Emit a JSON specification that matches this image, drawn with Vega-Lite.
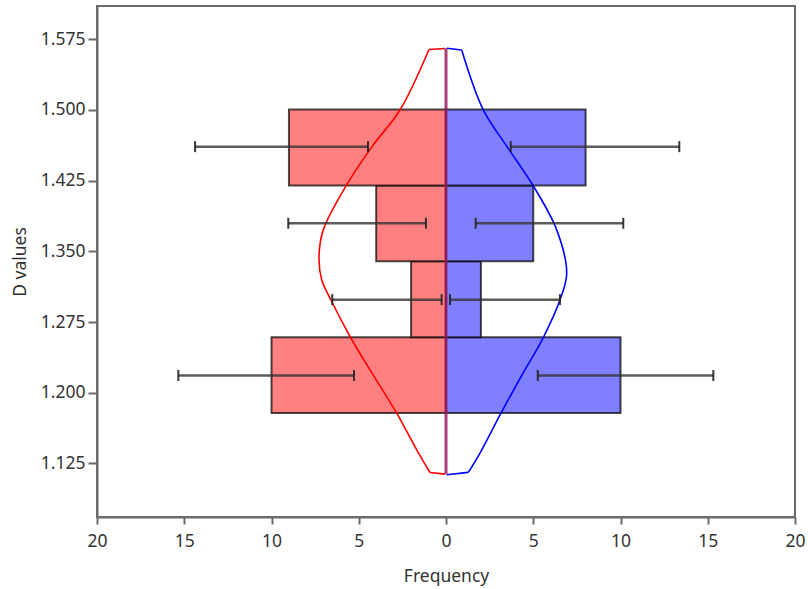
{
  "$schema": "https://vega.github.io/schema/vega-lite/v6.json",
  "autosize": "none",
  "width": 698,
  "height": 511,
  "padding": {"left": 97, "top": 6, "right": 13, "bottom": 72},
  "background": "white",
  "config": {
    "view": {"stroke": "#6b6b6b", "strokeWidth": 2},
    "font": "Noto Sans",
    "axis": {
      "domainColor": "#6b6b6b", "domainWidth": 2,
      "tickColor": "#6b6b6b", "tickWidth": 2,
      "labelFont": "Noto Sans", "labelFontSize": 17.5, "labelColor": "#333333",
      "titleFont": "Noto Sans", "titleFontSize": 17.5, "titleFontWeight": "normal", "titleColor": "#333333",
      "grid": false, "labelFlush": false
    }
  },
  "datasets": {
    "bars": [
      {"side": "L", "lo": 1.1785, "hi": 1.259, "freq": -10},
      {"side": "L", "lo": 1.259, "hi": 1.3395, "freq": -2},
      {"side": "L", "lo": 1.3395, "hi": 1.42, "freq": -4},
      {"side": "L", "lo": 1.42, "hi": 1.5005, "freq": -9},
      {"side": "R", "lo": 1.1785, "hi": 1.259, "freq": 10},
      {"side": "R", "lo": 1.259, "hi": 1.3395, "freq": 2},
      {"side": "R", "lo": 1.3395, "hi": 1.42, "freq": 5},
      {"side": "R", "lo": 1.42, "hi": 1.5005, "freq": 8}
    ],
    "errs": [
      {"side": "L", "y": 1.2183, "elo": -15.34, "ehi": -5.27},
      {"side": "L", "y": 1.2988, "elo": -6.52, "ehi": -0.25},
      {"side": "L", "y": 1.3798, "elo": -9.04, "ehi": -1.15},
      {"side": "L", "y": 1.4611, "elo": -14.38, "ehi": -4.47},
      {"side": "R", "y": 1.2183, "elo": 5.26, "ehi": 15.32},
      {"side": "R", "y": 1.2988, "elo": 0.23, "ehi": 6.53},
      {"side": "R", "y": 1.3798, "elo": 1.7, "ehi": 10.16},
      {"side": "R", "y": 1.4611, "elo": 3.71, "ehi": 13.37}
    ],
    "curves": [
      {"side": "L", "i": 0, "x": -0.974, "y": 1.5642},
      {"side": "L", "i": 1, "x": -2.636, "y": 1.5},
      {"side": "L", "i": 2, "x": -4.241, "y": 1.4611},
      {"side": "L", "i": 3, "x": -5.691, "y": 1.4205},
      {"side": "L", "i": 4, "x": -7.032, "y": 1.3728},
      {"side": "L", "i": 5, "x": -7.278, "y": 1.3442},
      {"side": "L", "i": 6, "x": -7.123, "y": 1.3198},
      {"side": "L", "i": 7, "x": -6.55, "y": 1.2968},
      {"side": "L", "i": 8, "x": -5.501, "y": 1.2597},
      {"side": "L", "i": 9, "x": -4.355, "y": 1.2243},
      {"side": "L", "i": 10, "x": -2.825, "y": 1.1784},
      {"side": "L", "i": 11, "x": -1.679, "y": 1.1395},
      {"side": "L", "i": 12, "x": -0.917, "y": 1.1154},
      {"side": "R", "i": 0, "x": 0.9, "y": 1.5637},
      {"side": "R", "i": 1, "x": 2.138, "y": 1.5},
      {"side": "R", "i": 2, "x": 3.496, "y": 1.4611},
      {"side": "R", "i": 3, "x": 4.968, "y": 1.4205},
      {"side": "R", "i": 4, "x": 6.344, "y": 1.3728},
      {"side": "R", "i": 5, "x": 6.917, "y": 1.3269},
      {"side": "R", "i": 6, "x": 6.533, "y": 1.2986},
      {"side": "R", "i": 7, "x": 5.576, "y": 1.2586},
      {"side": "R", "i": 8, "x": 4.338, "y": 1.2183},
      {"side": "R", "i": 9, "x": 3.15, "y": 1.1784},
      {"side": "R", "i": 10, "x": 1.948, "y": 1.136},
      {"side": "R", "i": 11, "x": 1.278, "y": 1.1155}
    ],
    "caps": [
      {"side": "L", "x": -0.974, "y": 1.5642, "x2": -0.057, "y2": 1.5652},
      {"side": "L", "x": -0.917, "y": 1.1154, "x2": -0.057, "y2": 1.1137},
      {"side": "R", "x": 0.04, "y": 1.5655, "x2": 0.9, "y2": 1.5637},
      {"side": "R", "x": 1.278, "y": 1.1155, "x2": 0.04, "y2": 1.113}
    ],
    "center": [{"x": 0, "y": 1.1135, "y2": 1.5655}]
  },
  "layer": [
    {
      "data": {"name": "bars"},
      "mark": {"type": "rect", "stroke": "#000000", "strokeOpacity": 0.7, "strokeWidth": 2},
      "encoding": {
        "x": {"field": "freq", "type": "quantitative",
          "scale": {"domain": [-20, 20], "nice": false, "zero": false},
          "axis": {"values": [-20, -15, -10, -5, 0, 5, 10, 15, 20], "labelExpr": "abs(datum.value)", "title": "Frequency", "tickSize": 7, "labelPadding": 8, "titlePadding": 18}},
        "x2": {"datum": 0},
        "y": {"field": "lo", "type": "quantitative",
          "scale": {"domain": [1.0682, 1.6103], "nice": false, "zero": false},
          "axis": {"values": [1.125, 1.2, 1.275, 1.35, 1.425, 1.5, 1.575], "format": ".3f", "title": "D values", "tickSize": 9, "labelPadding": 3, "titlePadding": 11}},
        "y2": {"field": "hi"},
        "fill": {"field": "side", "type": "nominal", "scale": {"domain": ["L", "R"], "range": ["#ff8080", "#8080ff"]}, "legend": null}
      }
    },
    {
      "data": {"name": "curves"},
      "mark": {"type": "line", "interpolate": "catmull-rom", "strokeWidth": 1.6},
      "encoding": {
        "x": {"field": "x", "type": "quantitative"},
        "y": {"field": "y", "type": "quantitative"},
        "order": {"field": "i", "type": "quantitative"},
        "detail": {"field": "side"},
        "color": {"field": "side", "type": "nominal", "scale": {"domain": ["L", "R"], "range": ["#ff0000", "#0000ff"]}, "legend": null}
      }
    },
    {
      "data": {"name": "caps"},
      "mark": {"type": "rule", "strokeWidth": 1.6},
      "encoding": {
        "x": {"field": "x", "type": "quantitative"},
        "y": {"field": "y", "type": "quantitative"},
        "x2": {"field": "x2"},
        "y2": {"field": "y2"},
        "color": {"field": "side", "type": "nominal", "scale": {"domain": ["L", "R"], "range": ["#ff0000", "#0000ff"]}, "legend": null}
      }
    },
    {
      "data": {"name": "center"},
      "mark": {"type": "rule", "color": "#9a1f62", "strokeWidth": 3, "opacity": 0.85},
      "encoding": {
        "x": {"field": "x", "type": "quantitative"},
        "y": {"field": "y", "type": "quantitative"},
        "y2": {"field": "y2"}
      }
    },
    {
      "data": {"name": "errs"},
      "mark": {"type": "rule", "color": "#333333", "strokeWidth": 2.5, "opacity": 0.8},
      "encoding": {
        "x": {"field": "elo", "type": "quantitative"},
        "x2": {"field": "ehi"},
        "y": {"field": "y", "type": "quantitative"}
      }
    },
    {
      "data": {"name": "errs"},
      "transform": [{"fold": ["elo", "ehi"], "as": ["end", "val"]}],
      "mark": {"type": "tick", "orient": "vertical", "color": "#222222", "size": 11, "thickness": 2, "opacity": 0.9},
      "encoding": {
        "x": {"field": "val", "type": "quantitative"},
        "y": {"field": "y", "type": "quantitative"}
      }
    }
  ]
}
